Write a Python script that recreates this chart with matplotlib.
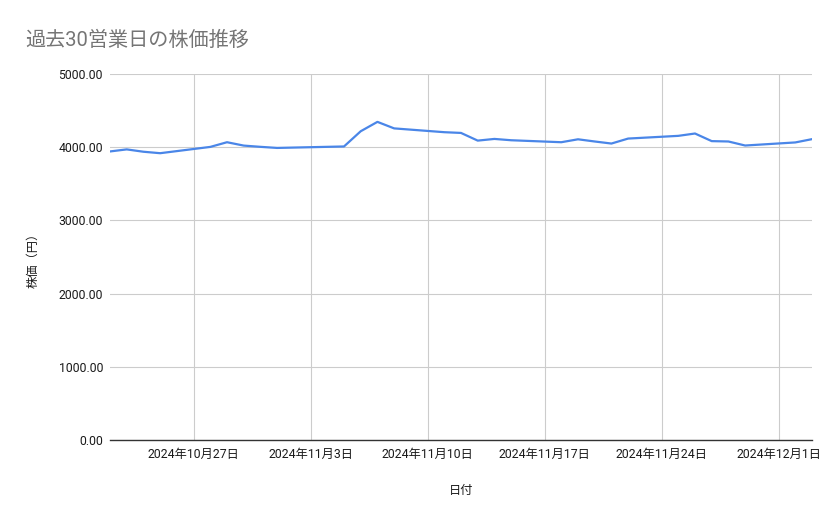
import matplotlib
matplotlib.use('Agg')
import matplotlib.pyplot as plt
import matplotlib.dates as mdates
from matplotlib.ticker import FuncFormatter
import numpy as np
import pandas as pd

plt.rcParams['font.family'] = ['Roboto', 'Noto Sans CJK JP', 'DejaVu Sans']

dates = ['2024-10-22', '2024-10-23', '2024-10-24', '2024-10-25',
         '2024-10-28', '2024-10-29', '2024-10-30', '2024-10-31', '2024-11-01',
         '2024-11-05', '2024-11-06', '2024-11-07', '2024-11-08',
         '2024-11-11', '2024-11-12', '2024-11-13', '2024-11-14', '2024-11-15',
         '2024-11-18', '2024-11-19', '2024-11-20', '2024-11-21', '2024-11-22',
         '2024-11-25', '2024-11-26', '2024-11-27', '2024-11-28', '2024-11-29',
         '2024-12-02', '2024-12-03']
prices = [3942, 3970, 3938, 3918,
          4004, 4068, 4022, 4005, 3990,
          4010, 4218, 4346, 4257,
          4205, 4195, 4090, 4113, 4095,
          4068, 4108, 4078, 4050, 4118,
          4155, 4187, 4083, 4078, 4023,
          4065, 4110]

x = pd.to_datetime(dates)

fig = plt.figure(figsize=(8.39, 5.19), dpi=100)
ax = fig.add_axes([110 / 839, 1 - 440 / 519, 702 / 839, 366 / 519])

ax.plot(x, prices, color='#4a86e8', linewidth=1.6)

ax.set_xlim(x[0], x[-1])
ax.set_ylim(0, 5000)
ax.set_yticks(np.arange(0, 5001, 1000))
ax.yaxis.set_major_formatter(FuncFormatter(lambda v, p: f'{v:.2f}'))

ax.xaxis.set_major_locator(mdates.WeekdayLocator(byweekday=mdates.SU))
ax.xaxis.set_major_formatter(FuncFormatter(
    lambda v, p: '{0}年{1}月{2}日'.format(*[int(s) for s in mdates.num2date(v).strftime('%Y %m %d').split()])))

ax.grid(True, color='#cccccc', linewidth=0.8)
ax.set_axisbelow(True)
for s in ['top', 'right', 'left']:
    ax.spines[s].set_visible(False)
ax.spines['bottom'].set_color('#333333')
ax.spines['bottom'].set_linewidth(1.0)
ax.tick_params(axis='both', length=0, labelsize=8.8, colors='#1a1a1a', pad=5)
ax.tick_params(axis='x', pad=6)

ax.set_xlabel('日付', fontsize=8.8, color='#1a1a1a', labelpad=16)
ax.set_ylabel('株価（円）', fontsize=8.8, color='#1a1a1a', labelpad=14)

fig.text(25 / 839, 1 - 40 / 519, '過去30営業日の株価推移', fontsize=14.5,
         color='#757575', va='center', ha='left')

fig.savefig('out.png', dpi=100, facecolor='white')
